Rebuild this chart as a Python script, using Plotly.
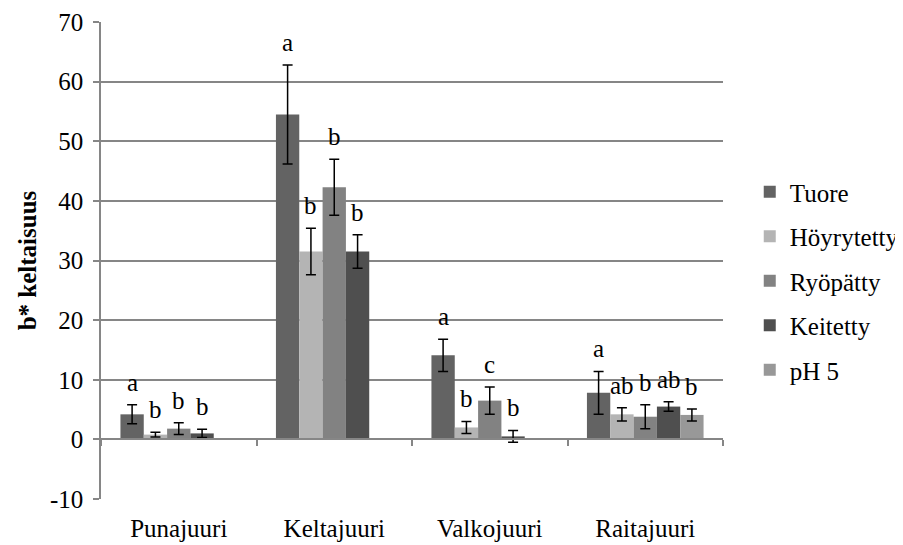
import plotly.graph_objects as go

categories = ["Punajuuri", "Keltajuuri", "Valkojuuri", "Raitajuuri"]
series = ["Tuore", "Höyrytetty", "Ryöpätty", "Keitetty", "pH 5"]
values = {
    "Tuore":      [4.2, 54.5, 14.1, 7.8],
    "Höyrytetty": [0.8, 31.5, 2.0, 4.2],
    "Ryöpätty":   [1.8, 42.3, 6.5, 3.8],
    "Keitetty":   [1.0, 31.5, 0.5, 5.5],
    "pH 5":       [None, None, None, 4.1],
}
errors = {
    "Tuore":      [1.6, 8.3, 2.7, 3.6],
    "Höyrytetty": [0.4, 3.9, 1.0, 1.1],
    "Ryöpätty":   [1.0, 4.7, 2.3, 2.0],
    "Keitetty":   [0.7, 2.8, 1.0, 0.8],
    "pH 5":       [None, None, None, 1.0],
}
letters = {
    "Tuore":      ["a", "a", "a", "a"],
    "Höyrytetty": ["b", "b", "b", "ab"],
    "Ryöpätty":   ["b", "b", "c", "b"],
    "Keitetty":   ["b", "b", "b", "ab"],
    "pH 5":       [None, None, None, "b"],
}
y_ticks = [-10, 0, 10, 20, 30, 40, 50, 60, 70]
y_ticktext = ["-10", "0", "10", "20", "30", "40", "50", "60", "70"]
colors = {
    "Tuore": "#636363",
    "Höyrytetty": "#b4b4b4",
    "Ryöpätty": "#828282",
    "Keitetty": "#4f4f4f",
    "pH 5": "#989898",
}

FONT = "Liberation Serif"
FS = 25
bargap = 0.25
fig = go.Figure()
for s in series:
    fig.add_trace(go.Bar(
        name=s, x=categories, y=values[s],
        marker=dict(color=colors[s], line=dict(width=0)),
        error_y=dict(type="data", array=errors[s], visible=True,
                     color="black", thickness=1.5, width=5),
        legendgroup=s,
    ))

annotations = []
n = len(series)
slot = (1 - bargap) / n
for i, s in enumerate(series):
    for j, c in enumerate(categories):
        lab = letters[s][j]
        if lab is None:
            continue
        annotations.append(dict(
            x=j + (i - (n - 1) / 2) * slot,
            y=values[s][j] + errors[s][j],
            xref="x", yref="y", text=lab, showarrow=False,
            yanchor="bottom", yshift=7,
            font=dict(family=FONT, size=FS, color="black"),
        ))

fig.update_layout(
    width=903, height=545,
    margin=dict(l=93, r=188, t=14, b=54, autoexpand=False),
    paper_bgcolor="white", plot_bgcolor="white",
    barmode="group", bargap=bargap, bargroupgap=0,
    font=dict(family=FONT, size=FS, color="black"),
    showlegend=True,
    legend=dict(x=1.043, xanchor="left", y=0.457, yanchor="middle",
                font=dict(family=FONT, size=FS), tracegroupgap=9,
                itemwidth=30, bgcolor="rgba(0,0,0,0)"),
    annotations=annotations,
    xaxis=dict(type="category", showline=False, ticks="", showgrid=False,
               zeroline=False, ticklen=0, ticklabelstandoff=12,
               tickfont=dict(family=FONT, size=FS)),
    xaxis2=dict(overlaying="x", anchor="free", position=0.125,
                range=[-0.5, 3.5], tickvals=[-0.5, 0.5, 1.5, 2.5, 3.5],
                showticklabels=False, showline=True, linecolor="#868686",
                linewidth=1.5, ticks="outside", ticklen=6, tickcolor="#868686",
                tickwidth=1.5, showgrid=False, zeroline=False),
    yaxis=dict(range=[-10, 70], tickvals=y_ticks, ticktext=y_ticktext,
               showgrid=True, gridcolor="#868686",
               gridwidth=1.5, zeroline=False, showline=True,
               linecolor="#868686", linewidth=1.5, ticks="outside",
               ticklen=6, tickcolor="#868686", tickwidth=1.5,
               ticklabelstandoff=5,
               tickfont=dict(family=FONT, size=FS),
               title=dict(text="<b>b* keltaisuus</b>",
                          font=dict(family=FONT, size=FS), standoff=6)),
)
# invisible trace so the zero-level category axis (xaxis2) is drawn
fig.add_trace(go.Scatter(x=[-0.5], y=[0], xaxis="x2", mode="markers",
                         marker=dict(opacity=0), showlegend=False,
                         hoverinfo="skip"))
fig.write_html("out.html")
